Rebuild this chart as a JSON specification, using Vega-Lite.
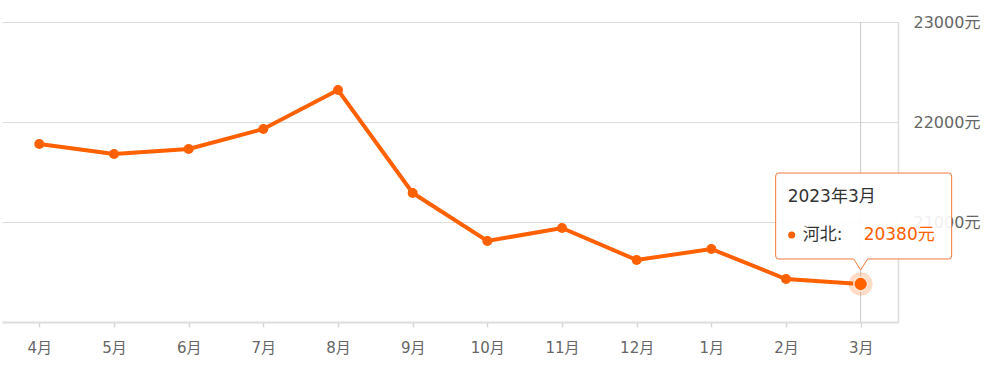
{
  "$schema": "https://vega.github.io/schema/vega-lite/v6.json",
  "width": 896,
  "height": 300,
  "padding": {"left": 2, "top": 14, "right": 5, "bottom": 5},
  "autosize": {"type": "pad"},
  "background": "#ffffff",
  "config": {
    "view": {"stroke": null},
    "font": "DejaVu Sans, Noto Sans CJK SC"
  },
  "datasets": {
    "main": [
      {"month": "4月", "price": 21780},
      {"month": "5月", "price": 21680},
      {"month": "6月", "price": 21730},
      {"month": "7月", "price": 21930},
      {"month": "8月", "price": 22320},
      {"month": "9月", "price": 21290},
      {"month": "10月", "price": 20810},
      {"month": "11月", "price": 20940},
      {"month": "12月", "price": 20620},
      {"month": "1月", "price": 20730},
      {"month": "2月", "price": 20430},
      {"month": "3月", "price": 20380}
    ],
    "tip": [
      {"month": "3月", "price": 20380, "date": "2023年3月", "label": "河北:", "valueText": "20380元"}
    ]
  },
  "encoding": {
    "x": {
      "field": "month",
      "type": "ordinal",
      "sort": ["4月", "5月", "6月", "7月", "8月", "9月", "10月", "11月", "12月", "1月", "2月", "3月"],
      "scale": {"type": "point", "padding": 0.5},
      "axis": {
        "title": null,
        "labelAngle": 0,
        "labelFont": "DejaVu Sans, Noto Sans CJK SC",
        "labelFontSize": 15,
        "labelColor": "#666666",
        "labelPadding": 13,
        "domainColor": "#dddddd",
        "domainWidth": 2,
        "tickColor": "#d8d8d8",
        "tickWidth": 1.5,
        "tickSize": 5,
        "grid": false
      }
    },
    "y": {
      "field": "price",
      "type": "quantitative",
      "scale": {"domain": [20000, 23000], "nice": false, "zero": false},
      "axis": {
        "title": null,
        "orient": "right",
        "values": [21000, 22000, 23000],
        "labelExpr": "datum.value + '元'",
        "labelFont": "DejaVu Sans, Noto Sans CJK SC",
        "labelFontSize": 16,
        "labelColor": "#666666",
        "labelPadding": 15,
        "ticks": false,
        "domain": true,
        "domainColor": "#dddddd",
        "domainWidth": 1.5,
        "grid": true,
        "gridColor": "#dddddd",
        "gridWidth": 1
      }
    }
  },
  "layer": [
    {
      "data": {"name": "tip"},
      "mark": {"type": "rule", "color": "#c8c8c8", "strokeWidth": 1},
      "encoding": {"y": null}
    },
    {
      "data": {"name": "main"},
      "mark": {"type": "line", "color": "#ff6000", "strokeWidth": 4}
    },
    {
      "data": {"name": "main"},
      "mark": {"type": "point", "filled": true, "color": "#ff6000", "size": 100, "opacity": 1}
    },
    {
      "data": {"name": "tip"},
      "mark": {"type": "point", "filled": true, "color": "#ff6000", "size": 560, "opacity": 0.22}
    },
    {
      "data": {"name": "tip"},
      "mark": {"type": "point", "filled": true, "color": "#ff6000", "size": 190, "opacity": 1, "stroke": "#ffe6d6", "strokeWidth": 1.5}
    },
    {
      "data": {"name": "tip"},
      "mark": {
        "type": "point",
        "shape": "M-82,-111 L88,-111 Q91,-111 91,-108 L91,-28 Q91,-25 88,-25 L7,-25 L0,-14 L-7,-25 L-82,-25 Q-85,-25 -85,-28 L-85,-108 Q-85,-111 -82,-111 Z",
        "size": 4,
        "fill": "#ffffff",
        "fillOpacity": 0.9,
        "stroke": "#f07a3a",
        "strokeWidth": 1,
        "opacity": 1
      }
    },
    {
      "data": {"name": "tip"},
      "mark": {"type": "text", "align": "left", "baseline": "middle", "dx": -73, "dy": -87, "fontSize": 17, "color": "#333333", "font": "DejaVu Sans, Noto Sans CJK SC"},
      "encoding": {"text": {"field": "date"}}
    },
    {
      "data": {"name": "tip"},
      "mark": {"type": "point", "filled": true, "color": "#ff6000", "size": 50, "opacity": 1, "xOffset": -69, "yOffset": -49}
    },
    {
      "data": {"name": "tip"},
      "mark": {"type": "text", "align": "left", "baseline": "middle", "dx": -58, "dy": -49, "fontSize": 17, "color": "#333333", "font": "DejaVu Sans, Noto Sans CJK SC"},
      "encoding": {"text": {"field": "label"}}
    },
    {
      "data": {"name": "tip"},
      "mark": {"type": "text", "align": "left", "baseline": "middle", "dx": 3, "dy": -49, "fontSize": 17, "color": "#ff6000", "font": "DejaVu Sans, Noto Sans CJK SC"},
      "encoding": {"text": {"field": "valueText"}}
    }
  ]
}
